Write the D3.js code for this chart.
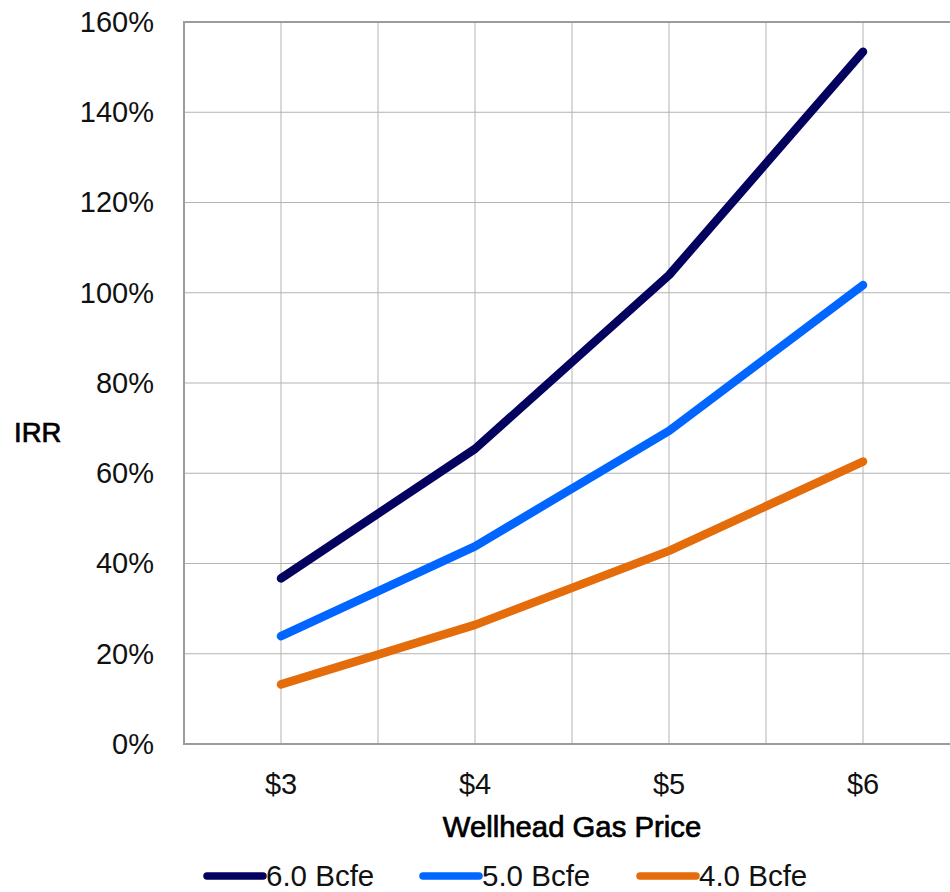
<!DOCTYPE html>
<html>
<head>
<meta charset="utf-8">
<script src="https://cdn.jsdelivr.net/npm/d3@7/dist/d3.min.js"></script>
<style>
  html, body { margin: 0; padding: 0; background: #fff; overflow: hidden; }
  svg { display: block; font-family: "Liberation Sans", Arial, sans-serif; }
</style>
</head>
<body>
<svg id="chart" width="950" height="892"></svg>
<script>
// Wellhead gas price categories
const prices = ["$3", "$4", "$5", "$6"];

// IRR by reserve case (fraction)
const irr60 = [0.367, 0.654, 1.039, 1.534];
const irr50 = [0.239, 0.438, 0.694, 1.017];
const irr40 = [0.132, 0.264, 0.428, 0.626];

const seriesNames = ["6.0 Bcfe", "5.0 Bcfe", "4.0 Bcfe"];
const seriesColors = ["#03035f", "#0066ff", "#e46c0a"];

const yTicks = [0, 0.2, 0.4, 0.6, 0.8, 1.0, 1.2, 1.4, 1.6];

const series = [irr60, irr50, irr40].map((vals, i) => ({
  name: seriesNames[i], color: seriesColors[i],
  points: prices.map((p, j) => ({ p, v: vals[j] }))
}));

const margin = { left: 184, top: 22 };
const plotW = 776, plotH = 722;

const svg = d3.select("#chart");
const g = svg.append("g").attr("transform", `translate(${margin.left},${margin.top})`);

const x = d3.scaleBand().domain(prices).range([0, plotW]).padding(0);
const y = d3.scaleLinear().domain([0, 1.6]).range([plotH, 0]);
const cx = p => x(p) + x.bandwidth() / 2;

// horizontal gridlines
g.append("g").selectAll("line").data(yTicks.slice(1, -1)).join("line")
  .attr("x1", 0).attr("x2", plotW)
  .attr("y1", d => y(d)).attr("y2", d => y(d))
  .attr("stroke", "#b3b3b3").attr("stroke-width", 1);

// vertical gridlines at category centres and band boundaries
const vLines = [];
prices.forEach(p => { vLines.push(x(p)); vLines.push(cx(p)); });
vLines.push(plotW);
g.append("g").selectAll("line").data(vLines.slice(1)).join("line")
  .attr("x1", d => d).attr("x2", d => d)
  .attr("y1", 0).attr("y2", plotH)
  .attr("stroke", "#b3b3b3").attr("stroke-width", 1);

// plot frame
g.append("rect").attr("x", 0).attr("y", 0).attr("width", plotW).attr("height", plotH)
  .attr("fill", "none").attr("stroke", "#9c9c9c").attr("stroke-width", 2);

// y axis labels
const yAxis = d3.axisLeft(y).tickValues(yTicks).tickFormat(d3.format(".0%"))
  .tickSize(0).tickPadding(30);
g.append("g").call(yAxis)
  .call(s => s.select(".domain").remove())
  .selectAll("text")
  .attr("font-size", 29).attr("fill", "#111")
  .attr("font-family", "Liberation Sans, Arial, sans-serif");

// x axis labels
const xAxis = d3.axisBottom(x).tickSize(0).tickPadding(29);
g.append("g").attr("transform", `translate(0,${plotH})`).call(xAxis)
  .call(s => s.select(".domain").remove())
  .selectAll("text")
  .attr("font-size", 29).attr("fill", "#111")
  .attr("font-family", "Liberation Sans, Arial, sans-serif");

// series lines
const line = d3.line().x(d => cx(d.p)).y(d => y(d.v));
g.append("g").selectAll("path").data(series).join("path")
  .attr("d", d => line(d.points))
  .attr("fill", "none")
  .attr("stroke", d => d.color)
  .attr("stroke-width", 8.5)
  .attr("stroke-linecap", "round")
  .attr("stroke-linejoin", "round");

// axis titles
svg.append("text").attr("x", 572).attr("y", 837)
  .attr("text-anchor", "middle").attr("font-size", 29.3)
  .attr("fill", "#000").attr("stroke", "#000").attr("stroke-width", 0.7)
  .text("Wellhead Gas Price");

svg.append("text").attr("x", 14).attr("y", 442)
  .attr("font-size", 27.5)
  .attr("fill", "#000").attr("stroke", "#000").attr("stroke-width", 0.7)
  .text("IRR");

// legend
const legendX = [207, 423, 640];
const leg = svg.append("g").selectAll("g").data(series).join("g")
  .attr("transform", (d, i) => `translate(${legendX[i]},876)`);
leg.append("line").attr("x1", 0).attr("x2", 56).attr("y1", 0).attr("y2", 0)
  .attr("stroke", d => d.color).attr("stroke-width", 7.5).attr("stroke-linecap", "round");
leg.append("text").attr("x", 59).attr("y", 10)
  .attr("font-size", 29.5).attr("fill", "#111")
  .text(d => d.name);
</script>
</body>
</html>
